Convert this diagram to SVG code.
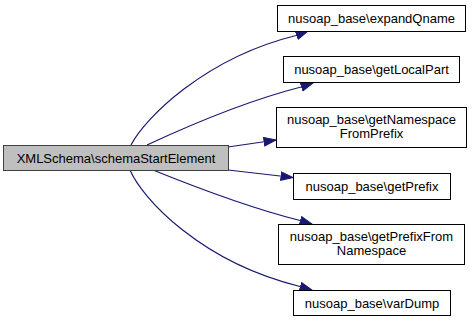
<svg xmlns="http://www.w3.org/2000/svg" width="472" height="323" viewBox="0 0 472 323">
<defs>
<style>
.node rect{fill:#ffffff;stroke:#000000;stroke-width:1}
.main rect{fill:#bfbfbf;stroke:#404040}
text{font-family:"Liberation Sans",Arial,sans-serif;font-size:13px;fill:#000;text-anchor:middle}
.edge{fill:none;stroke:#191970;stroke-width:1.2;marker-end:url(#arr)}
</style>
<marker id="arr" markerUnits="userSpaceOnUse" markerWidth="14" markerHeight="10" refX="12.5" refY="4.75" orient="auto">
<path d="M0.5,0.5 L12.5,4.75 L0.5,9 z" fill="#191970" stroke="#191970" stroke-width="1"/>
</marker>
</defs>
<rect width="472" height="323" fill="#ffffff"/>
<g id="edges">
<path class="edge" d="M131,145 C145,118 205,58 296,35.5 L308,31"/>
<path class="edge" d="M147,145 C190,125 250,100 301,87 L313,83"/>
<path class="edge" d="M228,147 L276,140"/>
<path class="edge" d="M228,170 L293,177.5"/>
<path class="edge" d="M153,170 C195,187 250,208 300,220.5 L312,224"/>
<path class="edge" d="M130,170 C142,198 200,262 300,286.5 L312,290"/>
</g>
<g id="n_main" class="node main">
<rect x="3.5" y="145.5" width="225" height="25"/>
<text x="116" y="162.5">XMLSchema\schemaStartElement</text>
</g>
<g id="n_expandQname" class="node">
<rect x="277.5" y="5.5" width="188" height="26"/>
<text x="371.5" y="23">nusoap_base\expandQname</text>
</g>
<g id="n_getLocalPart" class="node">
<rect x="283.5" y="56.5" width="176" height="26"/>
<text x="371.5" y="74">nusoap_base\getLocalPart</text>
</g>
<g id="n_getNamespaceFromPrefix" class="node">
<rect x="276.5" y="107.5" width="190" height="40"/>
<text x="371.5" y="123.5">nusoap_base\getNamespace</text>
<text x="371.5" y="138">FromPrefix</text>
</g>
<g id="n_getPrefix" class="node">
<rect x="293.5" y="173.5" width="157" height="26"/>
<text x="372" y="191">nusoap_base\getPrefix</text>
</g>
<g id="n_getPrefixFromNamespace" class="node">
<rect x="278.5" y="224.5" width="186" height="40"/>
<text x="371.5" y="240.5">nusoap_base\getPrefixFrom</text>
<text x="371.5" y="255">Namespace</text>
</g>
<g id="n_varDump" class="node">
<rect x="293.5" y="290.5" width="157" height="25"/>
<text x="372" y="307.5">nusoap_base\varDump</text>
</g>
</svg>
